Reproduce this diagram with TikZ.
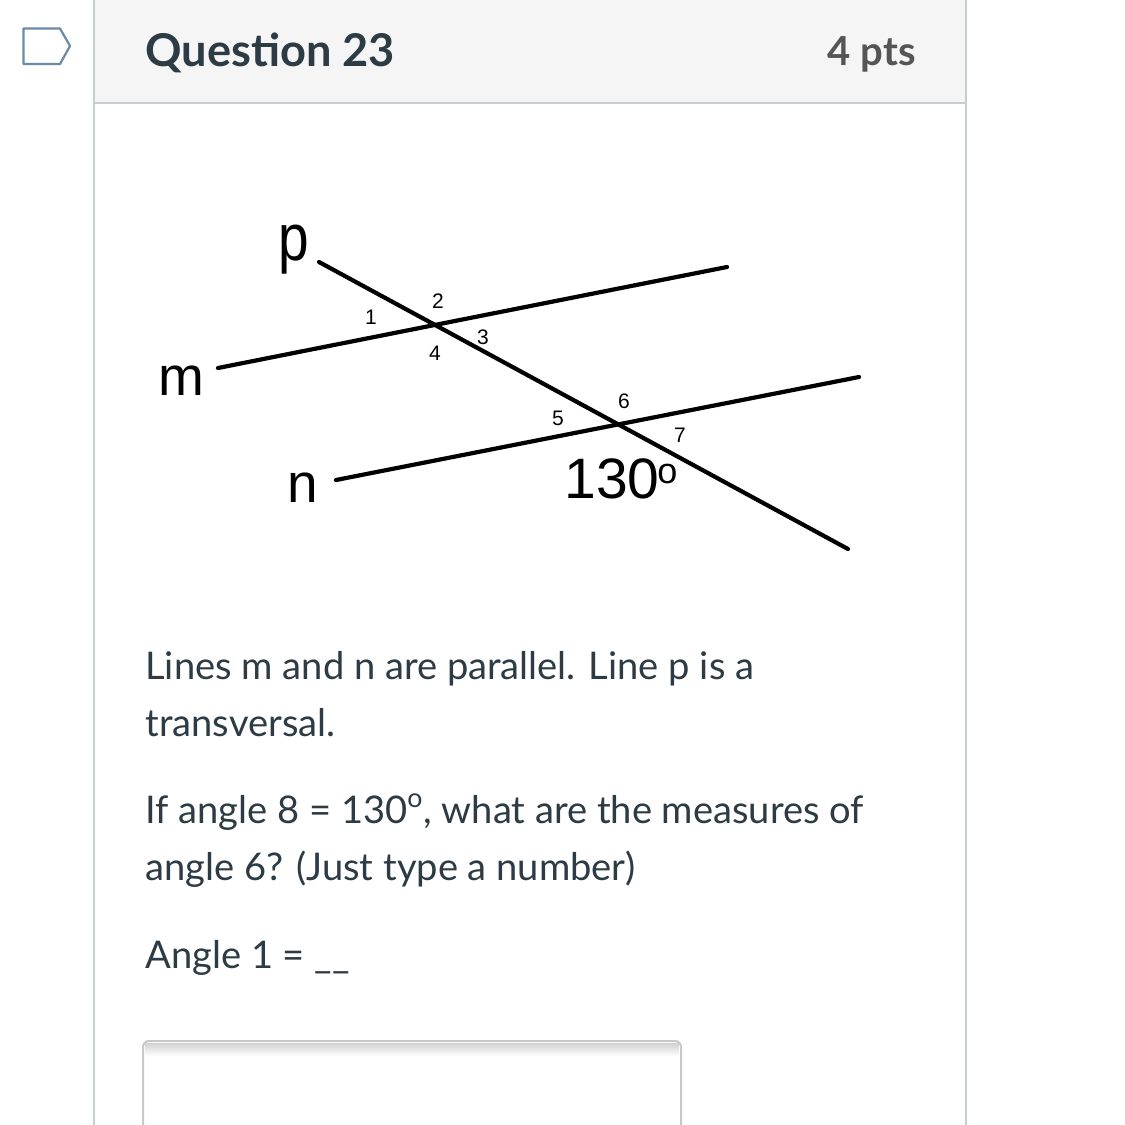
\documentclass[tikz,border=0pt]{standalone}
\usepackage{fontspec}
\setmainfont{Lato}
\newfontfamily\arialf{Liberation Sans}
\definecolor{headbg}{HTML}{F5F5F5}
\definecolor{panelborder}{HTML}{C7CDD1}
\definecolor{iconcol}{HTML}{6B8AA6}
\definecolor{qtext}{HTML}{2D3B45}
\definecolor{ptstext}{HTML}{555555}
\definecolor{boxborder}{HTML}{C8C8C8}
\tikzset{
  geo/.style={line width=2.1pt, black, line cap=round},
  anglab/.style={font=\arialf\fontsize{10.5}{12}\selectfont, inner sep=0},
  linelab/.style={font=\arialf\fontsize{27.5}{32}\selectfont, anchor=base, inner sep=0},
  bodytext/.style={font=\fontsize{19.05}{23}\selectfont, text=qtext, anchor=base west, inner sep=0},
  headtext/.style={font=\fontsize{22.6}{27}\selectfont\bfseries, inner sep=0}
}
\begin{document}
\begin{tikzpicture}[x=0.5pt,y=-0.5pt]
\useasboundingbox (0,0) rectangle (1125,1125);
\fill[white] (0,0) rectangle (1125,1125);
% panel
\fill[headbg] (94,0) rectangle (966,103);
\draw[panelborder, line width=1pt] (94,0) -- (94,1125);
\draw[panelborder, line width=1pt] (966,0) -- (966,1125);
\draw[panelborder, line width=1.3pt] (94,103) -- (966,103);
% icon
\draw[iconcol, line width=1.1pt, line join=round] (23.5,28.5) -- (60,28.5) -- (70,46) -- (60,64) -- (23.5,64) -- cycle;
% header
\node[headtext, text=qtext, anchor=base west] (qtitle) at (145,66) {Question 23};
\node[headtext, font=\fontsize{20}{24}\selectfont\bfseries, text=ptstext, anchor=base east] (pts) at (916,65) {4 pts};
% diagram
\coordinate (pA) at (319,262);
\coordinate (pB) at (848,549);
\coordinate (mA) at (218,368);
\coordinate (mB) at (727,267);
\coordinate (nA) at (336,480);
\coordinate (nB) at (859,377);
\draw[geo] (mA) -- (mB);
\draw[geo] (nA) -- (nB);
\draw[geo] (pA) -- (pB);
\node[anglab] (a1) at (371,317) {1};
\node[anglab] (a2) at (438,301) {2};
\node[anglab] (a3) at (483,337) {3};
\node[anglab] (a4) at (435,353) {4};
\node[anglab] (a5) at (558,418) {5};
\node[anglab] (a6) at (624,401) {6};
\node[anglab] (a7) at (680,435) {7};
\node[linelab, yscale=1.2, transform shape] (lp) at (294,260) {p};
\node[linelab] (lm) at (181,395) {m};
\node[linelab] (ln) at (303,502) {n};
\node[font=\arialf\fontsize{28.5}{32}\selectfont, anchor=base west, inner sep=0] (ang) at (564,498) {130};
\node[font=\arialf\fontsize{18}{20}\selectfont, anchor=base west, inner sep=0] (deg) at (657,483) {o};
% body text
\node[bodytext] (t1) at (145,679) {Lines m and n are parallel. Line p is a};
\node[bodytext] (t2) at (145,736) {transversal.};
\node[bodytext] (t3) at (145,823) {If angle 8 = 130\textsuperscript{o}, what are the measures of};
\node[bodytext] (t4) at (145,880) {angle 6? (Just type a number)};
\node[bodytext] (t5) at (145,968) {Angle 1 = \_\_};
% answer box
\fill[white] (143,1041) rectangle (681,1140);
\shade[top color=black!18, bottom color=white] (145,1043) rectangle (679,1056);
\draw[boxborder, line width=1pt, rounded corners=3pt] (143,1140) -- (143,1041) -- (681,1041) -- (681,1140);
\end{tikzpicture}
\end{document}
